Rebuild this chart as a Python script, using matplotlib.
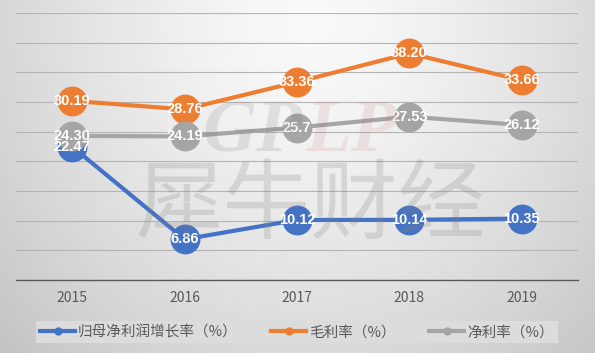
import numpy as np
import matplotlib.pyplot as plt
from matplotlib.lines import Line2D

plt.rcParams['font.family'] = ['Noto Sans CJK SC', 'DejaVu Sans']

years = ['2015', '2016', '2017', '2018', '2019']
net_profit_growth = [22.47, 6.86, 10.12, 10.14, 10.35]
gross_margin = [30.19, 28.76, 33.36, 38.20, 33.66]
net_margin = [24.30, 24.19, 25.7, 27.53, 26.12]
net_margin_labels = ['24.30', '24.19', '25.7', '27.53', '26.12']

series_names = ['归母净利润增长率（%）', '毛利率（%）', '净利率（%）']
colors = ['#4472C4', '#ED7D31', '#A5A5A5']

fig = plt.figure(figsize=(5.95, 3.53), dpi=100)

# 背景渐变
bg = fig.add_axes([0, 0, 1, 1], zorder=-10)
h, w = 353, 595
yy, xx = np.mgrid[0:h, 0:w]
d = np.sqrt(((xx - 310) / 290.0) ** 2 + ((yy - 20) / 330.0) ** 2)
shade = np.clip(250 - 32 * d ** 1.39, 0, 255) / 255.0
bg.imshow(np.dstack([shade] * 3), aspect='auto', extent=[0, 1, 0, 1])
bg.axis('off')

ax = fig.add_axes([16 / 595, 73 / 353, 562 / 595, 267 / 353])
ax.patch.set_alpha(0)
x = np.arange(len(years))

ax.set_ylim(0, 45)
ax.set_xlim(-0.5, 4.5)
ax.set_yticks(np.arange(0, 46, 5))
ax.yaxis.grid(True, color='#b4b4b4', linewidth=0.8)
ax.set_axisbelow(True)
ax.tick_params(axis='y', left=False, labelleft=False)
ax.set_xticks(x)
ax.set_xticklabels(years, fontsize=10, color='#595959')
ax.tick_params(axis='x', length=0, pad=8)
for s in ['left', 'right', 'top']:
    ax.spines[s].set_visible(False)
ax.spines['bottom'].set_color('#595959')
ax.spines['bottom'].set_linewidth(1)

all_data = [net_profit_growth, gross_margin, net_margin]
all_labels = [[f'{v:.2f}' for v in net_profit_growth],
              [f'{v:.2f}' for v in gross_margin],
              net_margin_labels]
for vals, labs, c in zip(all_data, all_labels, colors):
    ax.plot(x, vals, color=c, linewidth=3, marker='o', markersize=20.5,
            solid_capstyle='round', zorder=3)
    for xi, v, lab in zip(x, vals, labs):
        ax.text(xi, v, lab, ha='center', va='center', color='white',
                fontsize=10.5, fontweight='bold', family='Liberation Sans', zorder=4)

# 水印
fig.text(302 / 595, 1 - 133 / 353, 'GP', ha='right', va='center', fontsize=54,
         family='Liberation Serif', fontweight='bold', style='italic',
         color='#808080', alpha=0.18, zorder=5)
fig.text(306 / 595, 1 - 133 / 353, 'LP', ha='left', va='center', fontsize=54,
         family='Liberation Serif', fontweight='bold', style='italic',
         color='#c07070', alpha=0.14, zorder=5)
fig.text(310 / 595, 1 - 207 / 353, '犀牛财经', ha='center', va='center', fontsize=63,
         color='#808080', alpha=0.22, zorder=5)

handles = [Line2D([0], [0], color=c, linewidth=3, marker='o', markersize=5)
           for c in colors]
leg = fig.legend(handles, series_names, loc='center', bbox_to_anchor=(297 / 595, 1 - 332 / 353),
                 ncol=3, frameon=True, fancybox=False, fontsize=10.5, handlelength=2.4,
                 handletextpad=0.2, columnspacing=2.3, borderpad=0.3, borderaxespad=0)
leg.get_frame().set_facecolor('#dcdcdc')
leg.get_frame().set_edgecolor('none')
leg.get_frame().set_alpha(1)
for t in leg.get_texts():
    t.set_color('#595959')

fig.savefig('out.png', dpi=100)
